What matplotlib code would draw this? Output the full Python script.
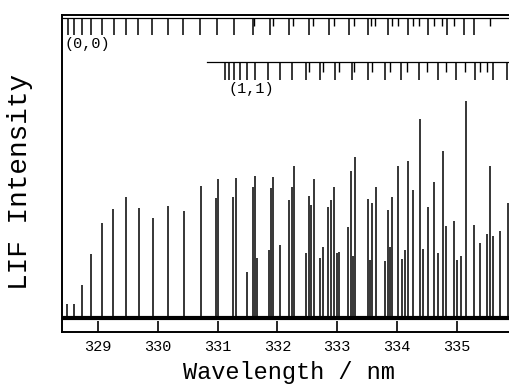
import matplotlib
matplotlib.use("Agg")
import matplotlib.pyplot as plt

# ---- data ----
peak_wl = [328.486, 328.598, 328.732, 328.888, 329.062, 329.256, 329.464, 329.687,
           329.926, 330.178, 330.441, 330.725, 330.977, 331.015, 331.266, 331.312,
           331.491, 331.591, 331.630, 331.658, 331.853, 331.898, 331.936, 332.037,
           332.204, 332.245, 332.271, 332.479, 332.523, 332.563, 332.606, 332.719,
           332.757, 332.853, 332.898, 332.953, 332.998, 333.025, 333.183, 333.233,
           333.260, 333.300, 333.518, 333.556, 333.585, 333.657, 333.796, 333.846,
           333.879, 333.925, 334.013, 334.087, 334.131, 334.188, 334.271, 334.389,
           334.439, 334.523, 334.616, 334.683, 334.767, 334.829, 334.963, 335.008,
           335.075, 335.159, 335.287, 335.399, 335.511, 335.566, 335.605, 335.722,
           335.868]
peak_int = [28, 28, 47, 78, 109, 123, 135, 124,
            114, 126, 121, 146, 134, 153, 135, 154,
            60, 145, 156, 74, 82, 144, 155, 87,
            132, 145, 166, 79, 136, 127, 153, 74,
            85, 125, 132, 145, 79, 80, 105, 161,
            76, 175, 133, 72, 129, 145, 71, 122,
            85, 135, 166, 73, 82, 171, 142, 213,
            83, 125, 150, 79, 181, 106, 111, 72,
            76, 231, 107, 89, 98, 166, 96, 101,
            129]
baseline_level = 14

band00_long = [328.492, 328.603, 328.727, 328.883, 329.062, 329.268, 329.464, 329.675,
               329.910, 330.178, 330.429, 330.714, 330.988, 331.283, 331.585, 331.881,
               332.204, 332.523, 332.858, 333.196, 333.511, 333.846, 334.188, 334.516,
               334.841, 335.131, 335.287]
band00_short = [331.618, 331.926, 332.261, 332.596, 332.943, 333.280, 333.573, 333.640,
                333.920, 334.020, 334.265, 334.377, 334.616, 334.757, 334.963, 335.555]
band11_long = [331.127, 331.199, 331.283, 331.379, 331.491, 331.630, 331.843, 332.049,
               332.245, 332.484, 332.719, 332.970, 333.250, 333.511, 333.796, 334.075,
               334.377, 334.683, 334.997, 335.303, 335.611, 335.851]
band11_short = [332.523, 332.757, 333.025, 333.288, 333.585, 333.879, 334.171, 334.506,
                334.829, 335.147, 335.387, 335.511]
band_labels = ["(0,0)", "(1,1)"]
xticks = [329, 330, 331, 332, 333, 334, 335]

FONT = "Liberation Mono"
plt.rcParams['font.family'] = [FONT, 'DejaVu Sans']

fig = plt.figure(figsize=(5.10, 3.86), dpi=100)
ax = fig.add_axes([0.1206, 0.1399, 0.886, 0.8213])
ax.set_xlim(328.389, 335.95)
ax.set_ylim(0, 317)

# spectrum
ax.axhline(baseline_level, color="black", lw=3.0, zorder=2)
ax.vlines(peak_wl, baseline_level, peak_int, color="black", lw=1.1, zorder=3)

# stick spectra
y00 = 314
ax.plot([328.389, 335.95], [y00, y00], color="black", lw=0.9)
ax.vlines(band00_long, y00 - 17, y00, color="black", lw=1.1)
ax.vlines(band00_short, y00 - 8, y00, color="black", lw=1.0)
y11 = 270
ax.plot([330.826, 335.95], [y11, y11], color="black", lw=0.9)
ax.vlines(band11_long, y11 - 18, y11, color="black", lw=1.1)
ax.vlines(band11_short, y11 - 10, y11, color="black", lw=1.0)
ax.text(328.447, 288, band_labels[0], fontsize=11, family=FONT, ha="left", va="center")
ax.text(331.178, 243, band_labels[1], fontsize=11, family=FONT, ha="left", va="center")

# axes styling
ax.spines['right'].set_visible(False)
for s in ['left', 'bottom', 'top']:
    ax.spines[s].set_linewidth(1.4)
ax.set_xticks(xticks)
ax.set_xticklabels([str(t) for t in xticks], family=FONT, fontsize=11)
ax.tick_params(axis='x', direction='in', length=8, width=1.2, pad=6)
ax.set_yticks([])

fig.text(0.567, 1 - 372 / 386, "Wavelength / nm", family=FONT, fontsize=17,
         ha="center", va="center")
fig.text(20 / 510, 1 - 182 / 386, "LIF Intensity", family=FONT, fontsize=20,
         rotation=90, ha="center", va="center")

fig.savefig("out.png", dpi=100)
